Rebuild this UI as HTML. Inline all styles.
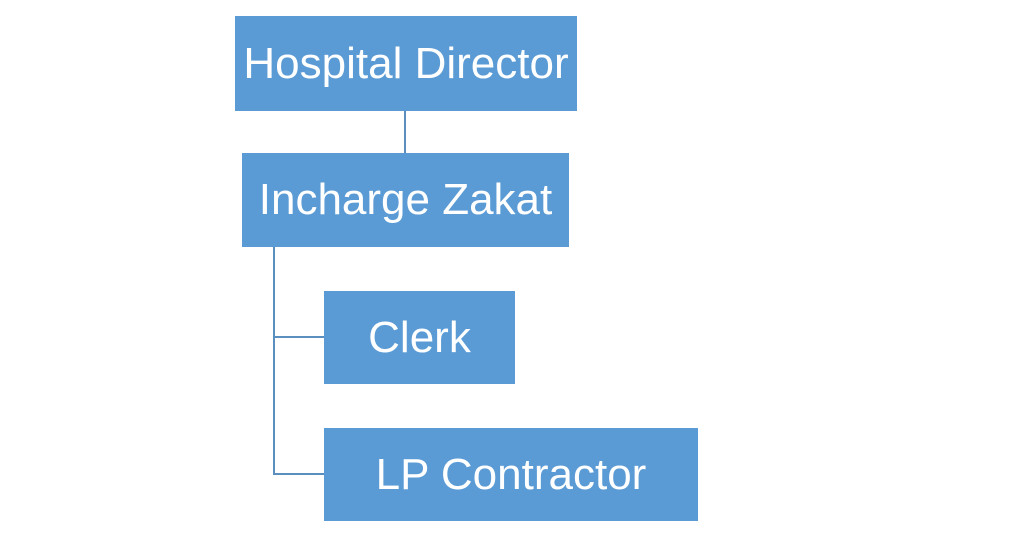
<!DOCTYPE html>
<html><head><meta charset="utf-8"><style>
html,body{margin:0;padding:0;background:#fff;}
body{width:1024px;height:536px;position:relative;overflow:hidden;font-family:"Liberation Sans",sans-serif;}
.b{position:absolute;background:#5b9bd5;color:#fff;display:flex;align-items:center;justify-content:center;font-size:44px;white-space:nowrap;}
.l{position:absolute;background:#5b8fbf;}
</style></head><body>
<div class="b" style="left:235px;top:16px;width:342px;height:95px;">Hospital Director</div>
<div class="b" style="left:242px;top:153px;width:327px;height:94px;">Incharge Zakat</div>
<div class="b" style="left:324px;top:291px;width:191px;height:93px;">Clerk</div>
<div class="b" style="left:324px;top:428px;width:374px;height:93px;">LP Contractor</div>
<div class="l" style="left:404px;top:111px;width:2px;height:42px;"></div>
<div class="l" style="left:273px;top:247px;width:2px;height:228px;"></div>
<div class="l" style="left:273px;top:336px;width:51px;height:2px;"></div>
<div class="l" style="left:273px;top:473px;width:51px;height:2px;"></div>
</body></html>
